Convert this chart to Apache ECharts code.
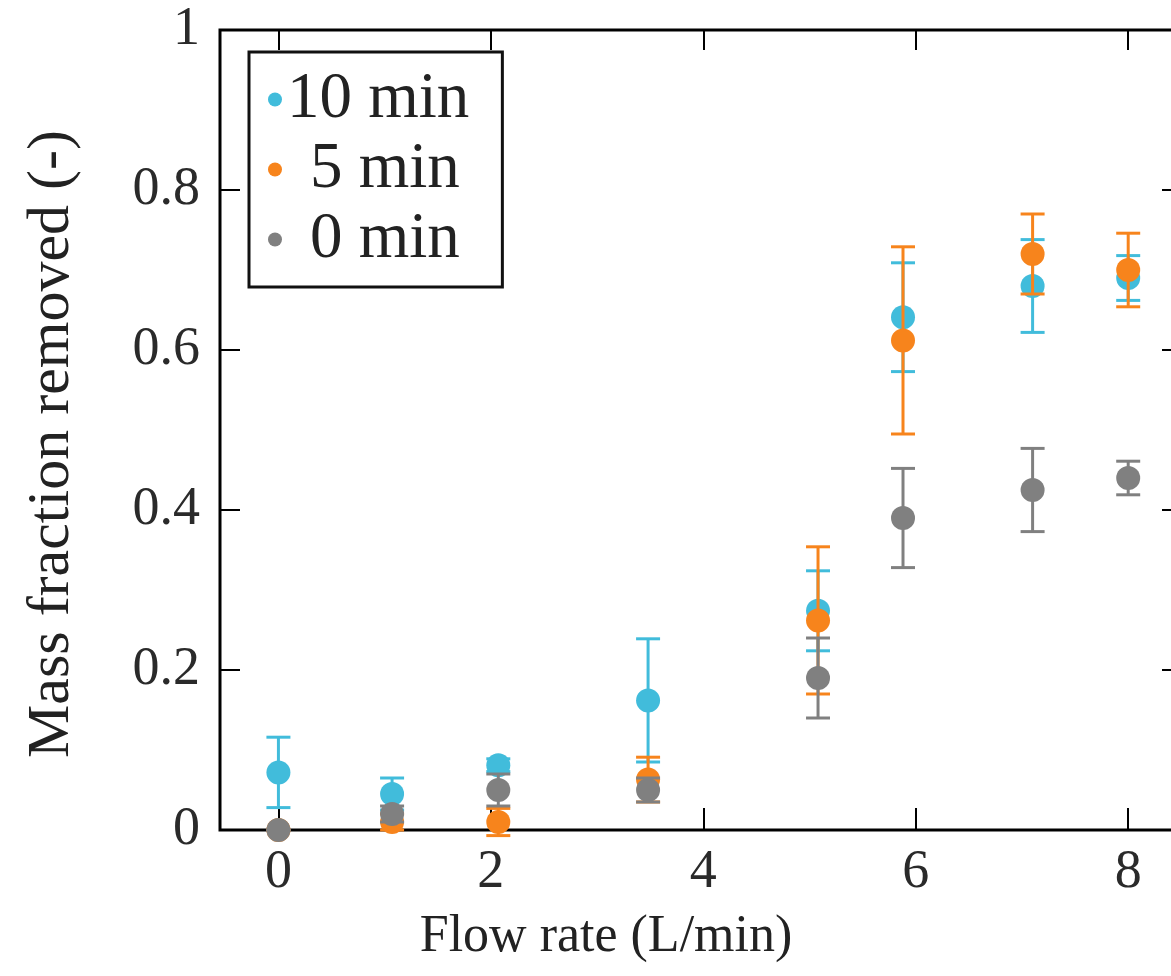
<!DOCTYPE html>
<html>
<head>
<meta charset="utf-8">
<script src="https://cdn.jsdelivr.net/npm/echarts@6/dist/echarts.min.js"></script>
<style>
html,body{margin:0;padding:0;background:#fff;}
#chart{width:1171px;height:976px;}
</style>
</head>
<body>
<div id="chart"></div>
<script>
// ---- data ----
const flowRate = [0, 1.07, 2.07, 3.48, 5.08, 5.88, 7.1, 8.0];
const seriesNames = ['10 min', '5 min', '0 min'];
const mean10 = [0.072, 0.045, 0.081, 0.162, 0.274, 0.641, 0.68, 0.69];
const err10  = [0.044, 0.02, 0.008, 0.077, 0.05, 0.068, 0.058, 0.028];
const mean5  = [0.0, 0.01, 0.01, 0.063, 0.262, 0.612, 0.72, 0.70];
const err5   = [0.0, 0.01, 0.017, 0.028, 0.092, 0.117, 0.05, 0.046];
const mean0  = [0.0, 0.02, 0.05, 0.05, 0.19, 0.39, 0.425, 0.44];
const err0   = [0.0, 0.01, 0.02, 0.015, 0.05, 0.062, 0.052, 0.021];
const xTicks = [0, 2, 4, 6, 8];

const colors = ['#41bcdb', '#f7841c', '#808080'];
const means = [mean10, mean5, mean0];
const errs = [err10, err5, err0];
const serif = '"Liberation Serif", "DejaVu Serif", serif';

function errData(m, e) {
  return flowRate.map((x, i) => [x, m[i] - e[i], m[i] + e[i]]);
}
function renderErr(color) {
  return function (params, api) {
    const x = api.value(0);
    const lo = api.coord([x, api.value(1)]);
    const hi = api.coord([x, api.value(2)]);
    const hw = 12;
    const st = { stroke: color, lineWidth: 3 };
    return {
      type: 'group',
      children: [
        { type: 'line', shape: { x1: lo[0], y1: lo[1], x2: hi[0], y2: hi[1] }, style: st },
        { type: 'line', shape: { x1: lo[0] - hw, y1: lo[1], x2: lo[0] + hw, y2: lo[1] }, style: st },
        { type: 'line', shape: { x1: hi[0] - hw, y1: hi[1], x2: hi[0] + hw, y2: hi[1] }, style: st }
      ]
    };
  };
}

const series = [];
seriesNames.forEach((name, k) => {
  series.push({
    type: 'custom',
    name: name + ' err',
    xAxisIndex: 0, yAxisIndex: 0,
    renderItem: renderErr(colors[k]),
    data: errData(means[k], errs[k]),
    clip: false,
    z: 2 + k * 2,
    silent: true
  });
  series.push({
    type: 'scatter',
    name: name,
    xAxisIndex: 0, yAxisIndex: 0,
    symbol: 'circle',
    symbolSize: 24,
    itemStyle: { color: colors[k], opacity: 1 },
    data: flowRate.map((x, i) => [x, means[k][i]]),
    clip: false,
    z: 3 + k * 2
  });
});

const chart = echarts.init(document.getElementById('chart'), null, { renderer: 'canvas' });
const tickStyle = { color: '#000', width: 2 };
const noLine = { show: false, onZero: false };
chart.setOption({
  animation: false,
  backgroundColor: '#fff',
  grid: {
    left: 220, top: 30, width: 956, height: 800,
    outerBoundsMode: 'none', containLabel: false,
    show: true, borderColor: '#000', borderWidth: 3, backgroundColor: 'transparent'
  },
  xAxis: [{
    type: 'value', min: -0.55, max: 8.45, position: 'bottom',
    axisLine: noLine,
    splitLine: { show: false },
    axisTick: { show: true, inside: true, length: 22, lineStyle: tickStyle, customValues: xTicks },
    axisLabel: { show: true, customValues: xTicks, margin: 16, fontFamily: serif, fontSize: 54, color: '#2a2a2a' }
  }, {
    type: 'value', min: -0.55, max: 8.45, position: 'top',
    axisLine: noLine,
    splitLine: { show: false },
    axisTick: { show: true, inside: true, length: 20, lineStyle: tickStyle, customValues: xTicks },
    axisLabel: { show: false, customValues: xTicks }
  }],
  yAxis: [{
    type: 'value', min: 0, max: 1, interval: 0.2, position: 'left',
    axisLine: noLine,
    splitLine: { show: false },
    axisTick: { show: true, inside: true, length: 20, lineStyle: tickStyle },
    axisLabel: { show: true, margin: 20, fontFamily: serif, fontSize: 54, color: '#2a2a2a' }
  }, {
    type: 'value', min: 0, max: 1, interval: 0.2, position: 'right',
    axisLine: noLine,
    splitLine: { show: false },
    axisTick: { show: true, inside: true, length: 14, lineStyle: tickStyle },
    axisLabel: { show: false }
  }],
  legend: {
    data: seriesNames,
    orient: 'vertical',
    left: 249, top: 52,
    padding: [15, 33, 15, 19],
    itemGap: 5,
    itemWidth: 14, itemHeight: 14,
    icon: 'circle',
    backgroundColor: '#fff',
    borderColor: '#111', borderWidth: 3,
    formatter: function (n) { return n.length < 6 ? '{p|' + n + '}' : '{q|' + n + '}'; },
    textStyle: {
      fontFamily: serif, fontSize: 65, lineHeight: 58, color: '#222',
      rich: {
        p: { fontFamily: serif, fontSize: 65, lineHeight: 58, color: '#222', padding: [0, 0, 0, 23] },
        q: { fontFamily: serif, fontSize: 65, lineHeight: 58, color: '#222' }
      }
    },
    selectedMode: false
  },
  graphic: [{
    type: 'text', x: 606, y: 937,
    style: { text: 'Flow rate (L/min)', font: '52px ' + serif, fill: '#222', align: 'center', verticalAlign: 'middle' }
  }, {
    type: 'text', x: 52, y: 444, rotation: Math.PI / 2,
    style: { text: 'Mass fraction removed (-)', font: '60px ' + serif, fill: '#222', align: 'center', verticalAlign: 'middle' }
  }],
  series: series
});
</script>
</body>
</html>
